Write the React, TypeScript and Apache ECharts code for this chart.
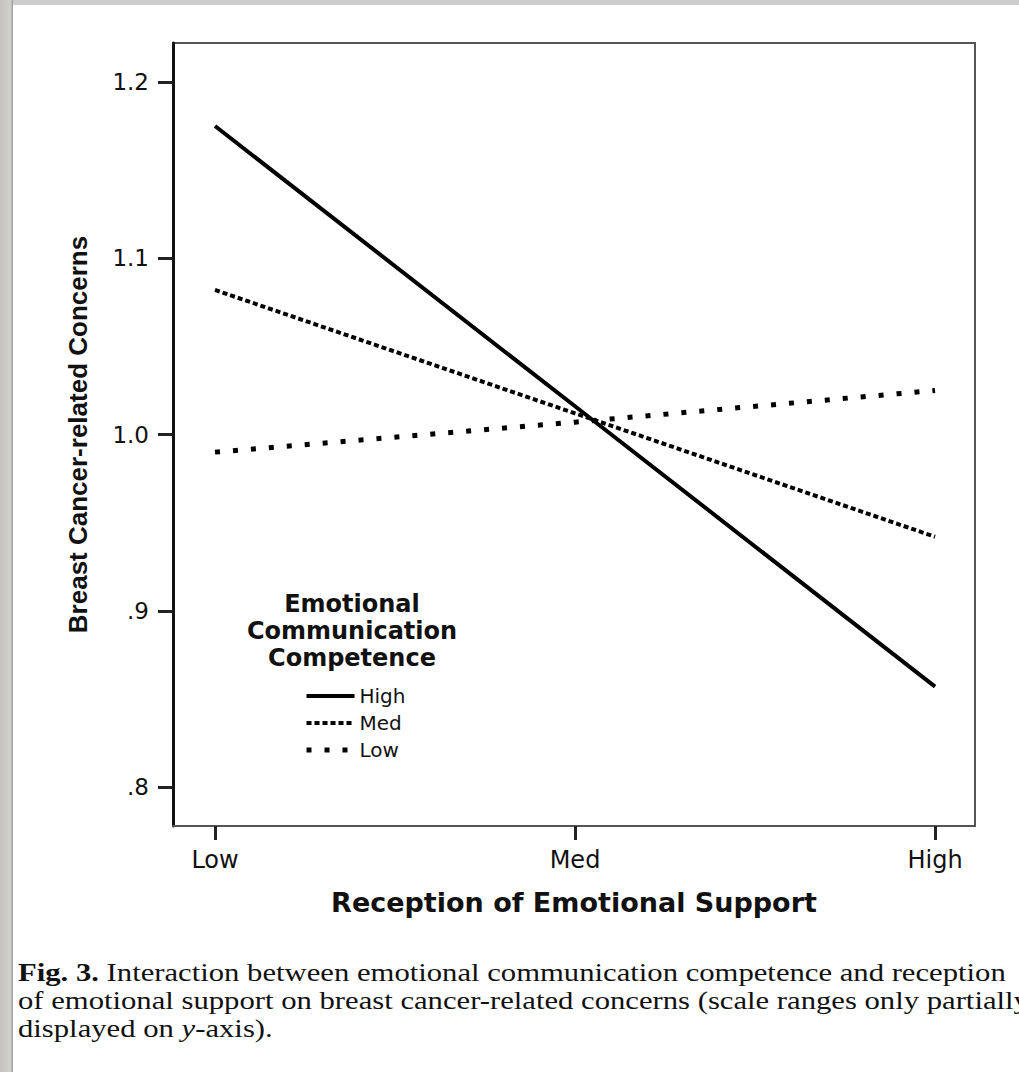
import React, { useEffect, useRef } from "react";
import * as echarts from "echarts";

const xLevels = ["Low", "Med", "High"];
const xPositions = [0, 1, 2];
const seriesNames = ["High", "Med", "Low"];
const highValues = [1.175, 1.016, 0.857];
const medValues = [1.082, 1.012, 0.942];
const lowValues = [0.99, 1.007, 1.025];
const yTickValues = [0.8, 0.9, 1.0, 1.1, 1.2];
const yTickLabels = [".8", ".9", "1.0", "1.1", "1.2"];
const captionLine1 = "Interaction between emotional communication competence and reception";
const captionLine2 = "of emotional support on breast cancer-related concerns (scale ranges only partially";
const captionLine3a = "displayed on ";
const captionLine3b = "y";
const captionLine3c = "-axis).";

const SANS = "DejaVu Sans";
const SERIF = "Liberation Serif";
const dashes: any[] = ["solid", [5, 3], [5, 13]];
const widths = [4, 4, 5];

export default function App() {
  const ref = useRef<HTMLDivElement>(null);
  useEffect(() => {
    document.body.style.margin = "0";
    const chart = echarts.init(ref.current!, null, { renderer: "svg" });
    const mk = (vals: number[]) => xPositions.map((x, i) => [x, vals[i]]);
    const allVals = [highValues, medValues, lowValues];
    const capStyle = (text: string, extra: any = {}) => ({
      text,
      fontFamily: SERIF,
      fontSize: 26,
      verticalAlign: "middle",
      fill: "#111",
      ...extra,
    });
    const option: any = {
      animation: false,
      backgroundColor: "#ffffff",
      grid: {
        left: 173,
        right: 44,
        top: 43,
        bottom: 246,
        show: true,
        borderColor: "#555",
        borderWidth: 2,
        backgroundColor: "transparent",
      },
      xAxis: {
        type: "value",
        min: -0.1167,
        max: 2.111,
        name: "Reception of Emotional Support",
        nameLocation: "middle",
        nameGap: 63,
        nameTextStyle: { fontFamily: SANS, fontWeight: "bold", fontSize: 27, color: "#111" },
        splitLine: { show: false },
        axisLine: { show: true, onZero: false, lineStyle: { color: "#555", width: 2 } },
        axisTick: {
          show: true,
          length: 14,
          lineStyle: { color: "#222", width: 3 },
          customValues: xPositions,
        },
        axisLabel: {
          customValues: xPositions,
          formatter: (v: number) => xLevels[Math.round(v)],
          fontFamily: SANS,
          fontSize: 24,
          color: "#111",
          margin: 22,
        },
      },
      yAxis: {
        type: "value",
        min: 0.7779,
        max: 1.2221,
        name: "Breast Cancer-related Concerns",
        nameLocation: "middle",
        nameGap: 82,
        nameTextStyle: { fontFamily: "Liberation Sans", fontWeight: "bold", fontSize: 26, color: "#111" },
        splitLine: { show: false },
        axisLine: { show: true, onZero: false, lineStyle: { color: "#111", width: 3 } },
        axisTick: {
          show: true,
          length: 15,
          lineStyle: { color: "#222", width: 3 },
          customValues: yTickValues,
        },
        axisLabel: {
          customValues: yTickValues,
          formatter: (v: number) => {
            const i = yTickValues.findIndex((t) => Math.abs(t - v) < 1e-6);
            return i >= 0 ? yTickLabels[i] : "";
          },
          fontFamily: SANS,
          fontSize: 23,
          color: "#111",
          margin: 24,
        },
      },
      legend: {
        orient: "vertical",
        left: 299,
        top: 681,
        itemWidth: 48,
        itemHeight: 14,
        itemGap: 7,
        itemStyle: { opacity: 0 },
        data: seriesNames.map((n, i) => ({
          name: n,
          itemStyle: { opacity: 0 },
          lineStyle: { color: "#000", width: widths[i], type: dashes[i] },
        })),
        textStyle: { fontFamily: SANS, fontSize: 20, color: "#111" },
      },
      series: seriesNames.map((n, i) => ({
        name: n,
        type: "line",
        data: mk(allVals[i]),
        symbol: "none",
        itemStyle: { color: "#000" },
        lineStyle: { color: "#000", width: widths[i], type: dashes[i] },
      })),
      graphic: [
        { type: "rect", shape: { x: 0, y: 0, width: 1019, height: 5 }, style: { fill: "#cdcdcd" }, silent: true },
        {
          type: "rect",
          shape: { x: 0, y: 0, width: 13, height: 1072 },
          style: {
            fill: new echarts.graphic.LinearGradient(0, 0, 1, 0, [
              { offset: 0, color: "#c4c4bc" },
              { offset: 0.8, color: "#d2d2cc" },
              { offset: 1, color: "#9a9a96" },
            ]),
          },
          silent: true,
        },
        {
          type: "text",
          x: 352,
          y: 590,
          style: {
            text: "Emotional\nCommunication\nCompetence",
            fontFamily: SANS,
            fontWeight: "bold",
            fontSize: 24,
            lineHeight: 27,
            textAlign: "center",
            fill: "#111",
          },
        },
        {
          type: "text",
          x: 18,
          y: 972,
          scaleX: 1.18,
          style: capStyle("{b|Fig. 3.} " + captionLine1, {
            rich: { b: { fontWeight: "bold", fontFamily: SERIF, fontSize: 26, fill: "#111" } },
          }),
        },
        {
          type: "text",
          x: 18,
          y: 1000,
          scaleX: 1.18,
          style: capStyle(captionLine2),
        },
        {
          type: "text",
          x: 18,
          y: 1028,
          scaleX: 1.18,
          style: capStyle(captionLine3a + "{i|" + captionLine3b + "}" + captionLine3c, {
            rich: { i: { fontStyle: "italic", fontFamily: SERIF, fontSize: 26, fill: "#111" } },
          }),
        },
      ],
    };
    chart.setOption(option);
    return () => chart.dispose();
  }, []);
  return <div ref={ref} style={{ width: 1019, height: 1072 }} />;
}
